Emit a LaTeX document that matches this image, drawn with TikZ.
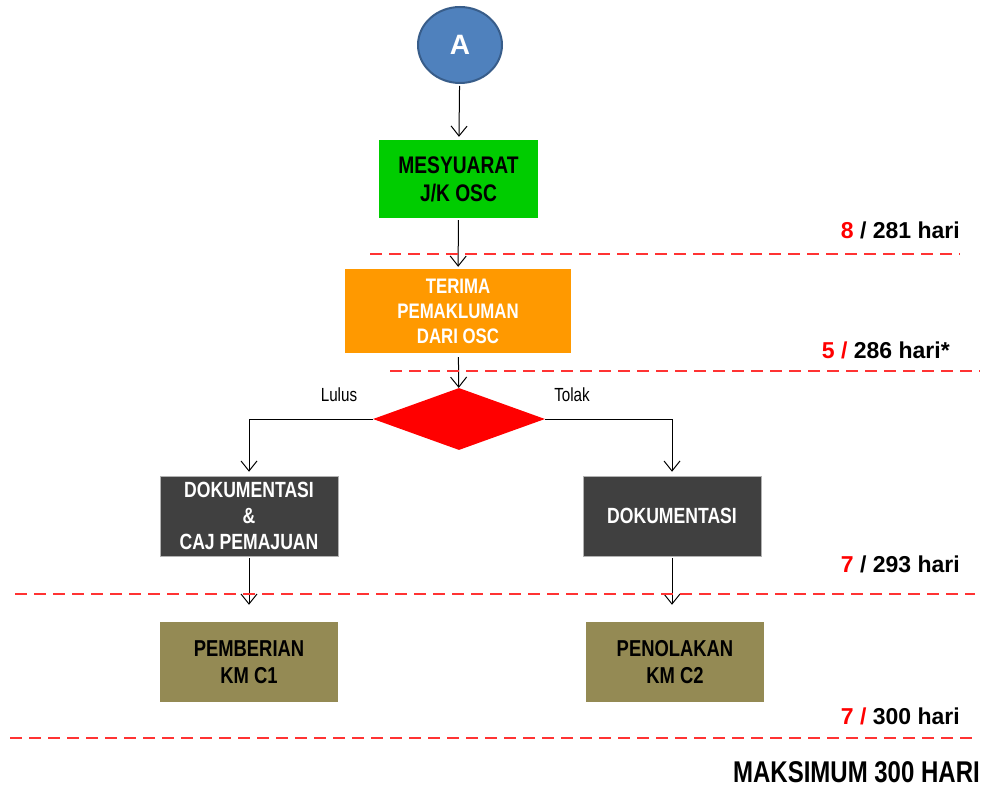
\documentclass[tikz,border=0pt]{standalone}
\usepackage{fontspec}
\setmainfont{Liberation Sans}
\newfontfamily\nar{Liberation Sans}[FakeStretch=0.8]
\usetikzlibrary{shapes.geometric,arrows.meta}
\definecolor{cblue}{HTML}{4F81BD}
\definecolor{cblueD}{HTML}{385D8A}
\definecolor{cgreen}{HTML}{00CC00}
\definecolor{corange}{HTML}{FF9900}
\definecolor{cdark}{HTML}{404040}
\definecolor{colive}{HTML}{948A54}
\definecolor{cred}{HTML}{FF0000}
\definecolor{cdash}{HTML}{FF3333}
\tikzset{
  box/.style={rectangle,inner sep=0pt,minimum width=178pt,minimum height=80pt,align=center,
    font=\nar\bfseries\fontsize{22}{26}\selectfont},
  arr/.style={-{Straight Barb[length=10pt,width=16pt]},line width=1pt,black},
  tline/.style={draw=cdash,line width=1.4pt,dash pattern=on 12pt off 7pt},
  lbl/.style={anchor=base east,inner sep=0pt,font=\bfseries\fontsize{23}{26}\selectfont},
  br/.style={anchor=base,inner sep=0pt,font=\nar\fontsize{19}{22}\selectfont}
}
\begin{document}
\begin{tikzpicture}[x=1pt,y=-1pt]
\useasboundingbox (0,0) rectangle (986,789);
% nodes
\node[ellipse,fill=cblue,draw=cblueD,line width=2pt,minimum width=84pt,minimum height=76pt,inner sep=0pt,
  text=white,font=\bfseries\fontsize{28}{30}\selectfont] (A) at (460,45) {A};
\node[box,fill=cgreen,minimum width=159pt,minimum height=78pt,font=\nar\bfseries\fontsize{24}{28}\selectfont] (mesy) at (458.5,179) {MESYUARAT\\J/K OSC};
\node[box,fill=corange,text=white,minimum width=226pt,minimum height=84pt,font=\nar\bfseries\fontsize{21}{25}\selectfont] (terima) at (458,311) {TERIMA\\PEMAKLUMAN\\DARI OSC};
\node[diamond,fill=cred,minimum width=172pt,minimum height=62pt,inner sep=0pt] (dia) at (459,419) {};
\node[box,fill=cdark,draw=gray!60,line width=0.5pt,text=white] (dok1) at (249,516) {DOKUMENTASI\\\&\\CAJ PEMAJUAN};
\node[box,fill=cdark,draw=gray!60,line width=0.5pt,text=white] (dok2) at (672,516) {DOKUMENTASI};
\node[box,fill=colive,font=\nar\bfseries\fontsize{23}{27}\selectfont] (pem) at (249,662) {PEMBERIAN\\KM C1};
\node[box,fill=colive,font=\nar\bfseries\fontsize{23}{27}\selectfont] (pen) at (675,662) {PENOLAKAN\\KM C2};
% connectors
\draw[arr,shorten <=2pt,shorten >=3pt] (A) -- (mesy);
\draw[arr,shorten <=2pt,shorten >=2pt] (mesy) -- (terima);
\draw[arr,shorten <=4pt] (terima) -- (dia);
\coordinate (lcorner) at (dok1.north |- dia.west);
\coordinate (rcorner) at (dok2.north |- dia.east);
\draw[arr,shorten >=4pt] (dia.west) -- (lcorner) -- (dok1.north);
\draw[arr,shorten >=4pt] (dia.east) -- (rcorner) -- (dok2.north);
\draw[arr,shorten <=2pt,shorten >=17pt] (dok1.south) -- (dok1.south |- pem.north);
\draw[arr,shorten <=2pt,shorten >=17pt] (dok2.south) -- (dok2.south |- pen.north);
\node[br] (lulus) at (339,401) {Lulus};
\node[br] (tolak) at (572,401) {Tolak};
% time lines
\draw[tline] (370,254) -- (960,254);
\draw[tline] (390,371) -- (980,371);
\draw[tline] (15,594) -- (975,594);
\draw[tline] (10,738) -- (975,738);
\node[lbl] (t1) at (960,238) {\textcolor{cred}{8} / 281 hari};
\node[lbl] (t2) at (950,358) {\textcolor{cred}{5 /} 286 hari*};
\node[lbl] (t3) at (960,572) {\textcolor{cred}{7} / 293 hari};
\node[lbl] (t4) at (960,724) {\textcolor{cred}{7 /} 300 hari};
\node[anchor=base east,inner sep=0pt,font=\nar\bfseries\fontsize{30}{32}\selectfont] (max) at (980,782) {MAKSIMUM 300 HARI};
\end{tikzpicture}
\end{document}
